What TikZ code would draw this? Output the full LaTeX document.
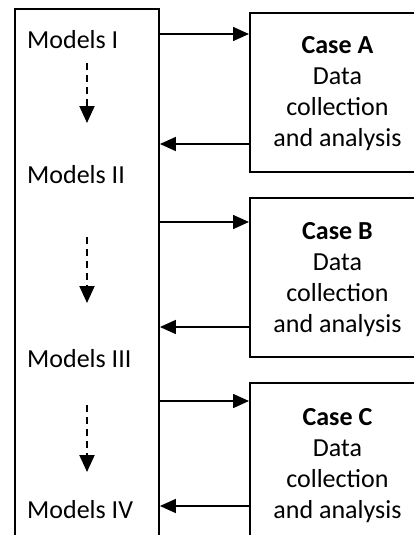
\documentclass[tikz,border=0pt]{standalone}
\usepackage{fontspec}
\setmainfont{Carlito}
\usetikzlibrary{arrows.meta}
\begin{document}
\begin{tikzpicture}[x=1pt,y=-1pt,
  frame/.style={draw, line width=1.9pt, inner sep=0pt, anchor=north west},
  casebox/.style={frame, minimum width=175pt, minimum height=159pt},
  label/.style={font=\fontsize{26}{31}\selectfont, inner sep=0pt, anchor=west},
  casetext/.style={font=\fontsize{26}{31}\selectfont, align=center, inner sep=0pt},
  flow/.style={line width=1.6pt, -{Triangle[length=16pt,width=14pt]}},
  refine/.style={line width=2pt, dash pattern=on 7pt off 5pt,
    -{Triangle[length=17pt,width=15pt]}}]
\useasboundingbox (0,0) rectangle (414,535);
\clip (0,0) rectangle (414,535);

% column of successive model versions (open at the bottom)
\node[frame, minimum width=144pt, minimum height=570pt] (models) at (14,8) {};
\node[label] (m1) at (27,40) {Models I};
\node[label] (m2) at (27,175) {Models II};
\node[label] (m3) at (27,359) {Models III};
\node[label] (m4) at (27,510) {Models IV};

% case study boxes (open to the right)
\node[casebox] (caseA) at (249,12) {};
\node[casebox] (caseB) at (249,197) {};
\node[casebox] (caseC) at (249,382) {};
\node[casetext] at ([yshift=-1pt]caseA.center) {\textbf{Case A}\\Data\\collection\\and analysis};
\node[casetext] at ([yshift=-2pt]caseB.center) {\textbf{Case B}\\Data\\collection\\and analysis};
\node[casetext] at ([yshift=-3pt]caseC.center) {\textbf{Case C}\\Data\\collection\\and analysis};

% exchanges between models and cases
\draw[flow] (models.east |- 0,34) -- (caseA.west |- 0,34);
\draw[flow] (caseA.west |- 0,144) -- (models.east |- 0,144);
\draw[flow] (models.east |- 0,222) -- (caseB.west |- 0,222);
\draw[flow] (caseB.west |- 0,327) -- (models.east |- 0,327);
\draw[flow] (models.east |- 0,401) -- (caseC.west |- 0,401);
\draw[flow] (caseC.west |- 0,506) -- (models.east |- 0,506);

% refinement steps between model versions
\coordinate (r1a) at (87,63);  \coordinate (r1b) at (87,123);
\coordinate (r2a) at (87,237); \coordinate (r2b) at (87,303);
\coordinate (r3a) at (87,405); \coordinate (r3b) at (87,472);
\draw[refine] (r1a) -- (r1b);
\draw[refine] (r2a) -- (r2b);
\draw[refine] (r3a) -- (r3b);
\end{tikzpicture}
\end{document}
